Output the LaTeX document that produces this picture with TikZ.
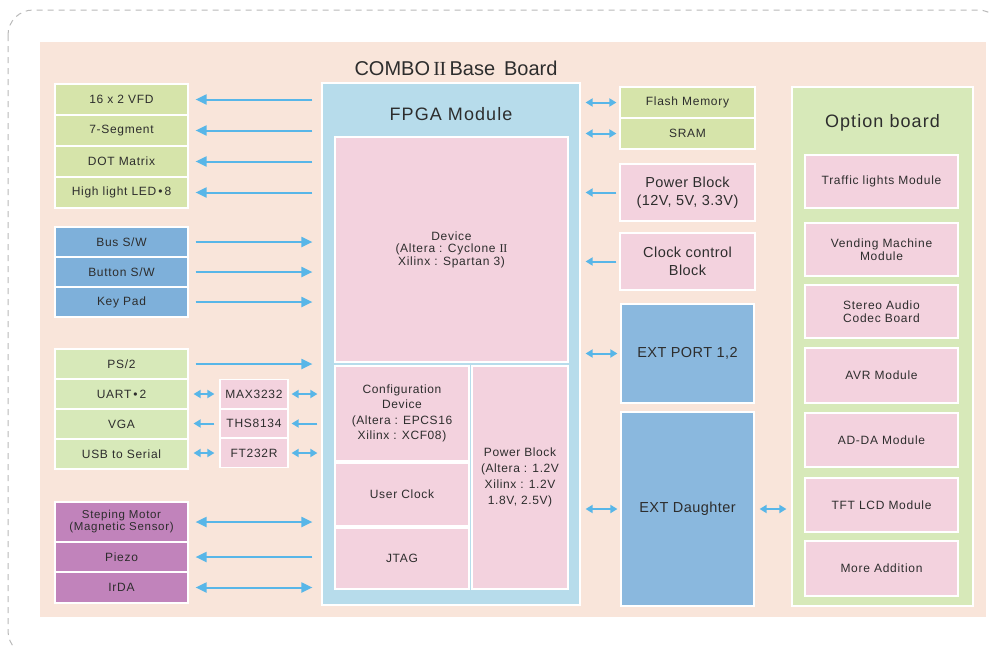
\documentclass[tikz,border=0pt]{standalone}
\usepackage{fontspec}
\setmainfont{Liberation Sans}
\newfontfamily\romfont{Liberation Serif}
\usetikzlibrary{arrows.meta}
\definecolor{peach}{RGB}{249,229,218}
\definecolor{lime}{RGB}{214,228,170}
\definecolor{leaf}{RGB}{215,233,185}
\definecolor{midblue}{RGB}{126,176,218}
\definecolor{extblue}{RGB}{138,184,222}
\definecolor{fpgablue}{RGB}{183,220,235}
\definecolor{rose}{RGB}{243,210,222}
\definecolor{mauve}{RGB}{193,131,187}
\definecolor{arrblue}{RGB}{88,182,232}
\definecolor{txt}{RGB}{45,45,45}
\definecolor{dashgray}{RGB}{185,185,185}

\begin{document}
\begin{tikzpicture}[x=1pt,y=-1pt]
        \tikzstyle{every node}=[text=txt, inner sep=0pt, align=center]
        \tikzstyle{blk}=[draw=white, line width=1.2pt,
            font=\fontsize{12}{13}\selectfont\addfontfeatures{LetterSpace=6}]
        \tikzstyle{big}=[font=\fontsize{14.5}{18}\selectfont\addfontfeatures{LetterSpace=3}]
        \tikzstyle{head}=[font=\fontsize{18}{22}\selectfont\addfontfeatures{LetterSpace=6}]
        \tikzstyle{arr}=[draw=arrblue, line width=2pt, -{Triangle[length=11pt,width=10pt]}]
        \tikzstyle{dbl}=[draw=arrblue, line width=2pt, {Triangle[length=11pt,width=10pt]}-{Triangle[length=11pt,width=10pt]}]
        \tikzstyle{sarr}=[draw=arrblue, line width=2pt, -{Triangle[length=7pt,width=8pt]}]
        \tikzstyle{sdbl}=[draw=arrblue, line width=2pt, {Triangle[length=7pt,width=8pt]}-{Triangle[length=7pt,width=8pt]}]
        \useasboundingbox (0,0) rectangle (991,646);

        % frame and board
        \draw[dashgray, line width=1pt, dash pattern=on 6pt off 5pt, rounded corners=25pt]
            (8,10) rectangle (1003,656);
        \fill[peach] (40,42) rectangle (986,617);
        \node[font=\fontsize{20}{24}\selectfont] (title) at (456,68)
            {COMBO{\romfont\,I\kern-0.02em I\,}Base\, Board};

        % FPGA module
        \node[blk, fill=fpgablue, minimum width=258pt, minimum height=522pt] (fpga) at (451,344) {};
        \node[head] (fpgatitle) at (451,114) {FPGA Module};
        \node[blk, fill=rose, minimum width=233pt, minimum height=225pt,
            font=\fontsize{12}{12.5}\selectfont\addfontfeatures{LetterSpace=6}] (device) at (451.5,249.5)
            {Device\\(Altera : Cyclone {\romfont I\kern-0.02em I}\\ Xilinx : Spartan 3)};
        \node[blk, fill=rose, minimum width=134pt, minimum height=95pt,
            font=\fontsize{12}{15.5}\selectfont\addfontfeatures{LetterSpace=5}] (config) at (402,413.5)
            {Configuration\\Device\\(Altera : EPCS16\\Xilinx : XCF08)};
        \node[blk, fill=rose, minimum width=134pt, minimum height=63pt] (uclk) at (402,494.5) {User Clock};
        \node[blk, fill=rose, minimum width=134pt, minimum height=61pt] (jtag) at (402,558.5) {JTAG};
        \node[blk, fill=rose, minimum width=96pt, minimum height=223pt,
            font=\fontsize{12}{16}\selectfont\addfontfeatures{LetterSpace=5}] (fpow) at (520,477.5)
            {Power Block\\(Altera : 1.2V\\ Xilinx : 1.2V\\1.8V, 2.5V)};

        % left side
        \node[blk, fill=lime, minimum width=133pt, minimum height=31pt] (vfd) at (121.5,99.5) {16 x 2 VFD};
        \node[blk, fill=lime, minimum width=133pt, minimum height=31pt] (seg) at (121.5,130.5) {7-Segment};
        \node[blk, fill=lime, minimum width=133pt, minimum height=31pt] (dot) at (121.5,161.5) {DOT Matrix};
        \node[blk, fill=lime, minimum width=133pt, minimum height=31pt] (led) at (121.5,192.5) {High light LED\,•\,8};

        \node[blk, fill=midblue, minimum width=133pt, minimum height=30pt] (bus) at (121.5,242) {Bus S/W};
        \node[blk, fill=midblue, minimum width=133pt, minimum height=30pt] (button) at (121.5,272) {Button S/W};
        \node[blk, fill=midblue, minimum width=133pt, minimum height=30pt] (keypad) at (121.5,302) {Key Pad};

        \node[blk, fill=leaf, minimum width=133pt, minimum height=30pt] (ps2) at (121.5,364) {PS/2};
        \node[blk, fill=leaf, minimum width=133pt, minimum height=30pt] (uart) at (121.5,394) {UART\,•\,2};
        \node[blk, fill=leaf, minimum width=133pt, minimum height=30pt] (vga) at (121.5,424) {VGA};
        \node[blk, fill=leaf, minimum width=133pt, minimum height=30pt] (usb) at (121.5,454) {USB to Serial};

        \node[blk, fill=rose, minimum width=68pt, minimum height=29pt] (max) at (254,394) {MAX3232};
        \node[blk, fill=rose, minimum width=68pt, minimum height=29pt] (ths) at (254,423.5) {THS8134};
        \node[blk, fill=rose, minimum width=68pt, minimum height=29pt] (ft) at (254,453) {FT232R};

        \node[blk, fill=mauve, minimum width=133pt, minimum height=40pt,
            font=\fontsize{11.5}{12}\selectfont\addfontfeatures{LetterSpace=6}] (motor) at (121.5,522)
            {Steping Motor\\(Magnetic Sensor)};
        \node[blk, fill=mauve, minimum width=133pt, minimum height=30pt] (piezo) at (121.5,557) {Piezo};
        \node[blk, fill=mauve, minimum width=133pt, minimum height=31pt] (irda) at (121.5,587.5) {IrDA};

        % right side
        \node[blk, fill=lime, minimum width=135pt, minimum height=31pt] (flash) at (687.5,102.5) {Flash Memory};
        \node[blk, fill=lime, minimum width=135pt, minimum height=31pt] (sram) at (687.5,133.5) {SRAM};
        \node[blk, big, fill=rose, minimum width=135pt, minimum height=57pt] (power) at (687.5,192.5)
            {Power Block\\(12V, 5V, 3.3V)};
        \node[blk, big, fill=rose, minimum width=135pt, minimum height=57pt] (clock) at (687.5,261.5)
            {Clock control\\Block};
        \node[blk, big, fill=extblue, minimum width=133pt, minimum height=99pt] (extport) at (687.5,353.5) {EXT PORT 1,2};
        \node[blk, big, fill=extblue, minimum width=133pt, minimum height=194pt] (extd) at (687.5,509) {EXT Daughter};

        % option board
        \node[blk, fill=leaf, minimum width=181pt, minimum height=519pt] (option) at (882.5,346.5) {};
        \node[head] (opttitle) at (882.5,123) {Option board};
        \node[blk, fill=rose, minimum width=153pt, minimum height=53pt] (traffic) at (881.5,181.5) {Traffic lights Module};
        \node[blk, fill=rose, minimum width=153pt, minimum height=53pt] (vending) at (881.5,249.5) {Vending Machine\\Module};
        \node[blk, fill=rose, minimum width=153pt, minimum height=53pt] (audio) at (881.5,311.5) {Stereo Audio\\Codec Board};
        \node[blk, fill=rose, minimum width=153pt, minimum height=55pt] (avr) at (881.5,375.5) {AVR Module};
        \node[blk, fill=rose, minimum width=153pt, minimum height=54pt] (adda) at (881.5,440) {AD-DA Module};
        \node[blk, fill=rose, minimum width=153pt, minimum height=54pt] (tft) at (881.5,505) {TFT LCD Module};
        \node[blk, fill=rose, minimum width=153pt, minimum height=55pt] (more) at (881.5,568.5) {More Addition};

        % connectors
        \foreach\n in {vfd,seg,dot,led,piezo}{
            \draw[arr, shorten <=9pt, shorten >=7pt] (\n.east -| fpga.west) -- (\n.east);
        }
        \foreach\n in {bus,button,keypad,ps2}{
            \draw[arr, shorten <=7pt, shorten >=9pt] (\n.east) -- (\n.east -| fpga.west);
        }
        \foreach\n in {motor,irda}{
            \draw[dbl, shorten <=7pt, shorten >=9pt] (\n.east) -- (\n.east -| fpga.west);
        }
        \draw[sdbl, shorten <=5pt, shorten >=5pt] (uart.east) -- (max.west);
        \draw[sdbl, shorten <=3pt, shorten >=4pt] (max.east) -- (max.east -| fpga.west);
        \draw[sarr, shorten <=5pt, shorten >=5pt] (ths.west) -- (ths.west -| vga.east);
        \draw[sarr, shorten <=4pt, shorten >=3pt] (ths.east -| fpga.west) -- (ths.east);
        \draw[sdbl, shorten <=5pt, shorten >=5pt] (ft.west -| usb.east) -- (ft.west);
        \draw[sdbl, shorten <=3pt, shorten >=4pt] (ft.east) -- (ft.east -| fpga.west);

        \foreach\n in {flash,sram,extport,extd}{
            \draw[sdbl, shorten <=5pt, shorten >=3pt] (\n.west -| fpga.east) -- (\n.west);
        }
        \foreach\n in {power,clock}{
            \draw[sarr, shorten <=3pt, shorten >=5pt] (\n.west) -- (\n.west -| fpga.east);
        }
        \draw[sdbl, shorten <=5pt, shorten >=5pt] (extd.east) -- (extd.east -| option.west);
  \end{tikzpicture}
\end{document}
